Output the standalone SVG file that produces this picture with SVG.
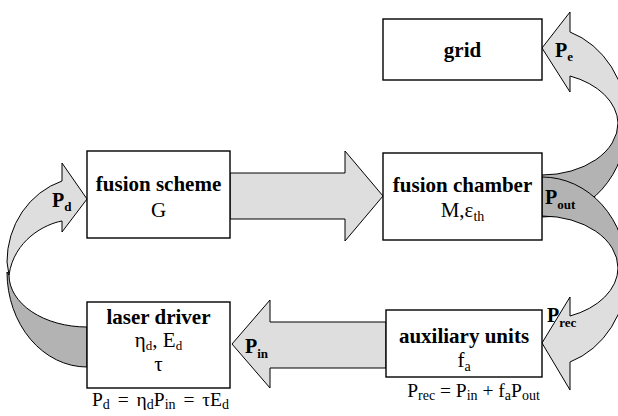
<svg xmlns="http://www.w3.org/2000/svg" width="618" height="416" viewBox="0 0 618 416">
<style>
.box{fill:#fff;stroke:#000;stroke-width:1.4}
.lt{fill:#dedede;stroke:#000;stroke-width:1}
.dk{fill:#b3b3b3;stroke:#000;stroke-width:1}
.t{font-family:"Liberation Serif","Times New Roman",serif;font-size:21px;fill:#000;text-anchor:middle}
.b{font-weight:bold}
.p{font-family:"Liberation Serif","Times New Roman",serif;font-size:20px;font-weight:bold;fill:#000}
.f{font-family:"Liberation Serif","Times New Roman",serif;font-size:19.5px;fill:#000;text-anchor:middle}
.s{font-size:14px}
</style>
<rect width="618" height="416" fill="#fff"/>
<g id="connectors">
  <!-- P_d curved arrow (laser driver -> fusion scheme) -->
  <path class="dk" d="M9,275 A78,52 0 0 0 87,327 L87,367 A80,95 0 0 1 7,272 Z"/>
  <path class="lt" d="M87,199 L62,163 L62,181 A80,85 0 0 0 7,262 L9,275 C14,240 45,224 62,221 L62,232 Z"/>
  <!-- P_e curved arrow (fusion chamber -> grid) -->
  <path class="dk" d="M542,175 A76,52 0 0 0 618,123 L627,122 A85,95 0 0 1 542,217 Z"/>
  <path class="lt" d="M542,48 L570,12 L570,32 A85,95 0 0 1 627,122 L618,123 A76,52 0 0 0 570,76 L570,92 Z"/>
  <!-- P_rec curved arrow (fusion chamber -> auxiliary units) -->
  <path class="dk" d="M542,177 A85,95 0 0 1 627,272 L618,268 A76,52 0 0 0 542,216 Z"/>
  <path class="lt" d="M542,343 L570,297 L570,316 A76,52 0 0 0 618,268 L627,272 A85,95 0 0 1 570,362 L570,390 Z"/>
  <!-- straight arrows -->
  <path class="lt" d="M230,173 L345,173 L345,151 L383,196 L345,241 L345,219 L230,219 Z"/>
  <path class="lt" d="M386,322 L270,322 L270,300 L232,344 L270,388 L270,368 L386,368 Z"/>
  <!-- labels -->
  <text class="p" x="52" y="207">P<tspan font-size="13" dy="4">d</tspan></text>
  <text class="p" x="555" y="57">P<tspan font-size="13" dy="4">e</tspan></text>
  <text class="p" x="545" y="204">P<tspan font-size="13" dy="5">out</tspan></text>
  <text class="p" x="547" y="322">P<tspan font-size="13" dy="5">rec</tspan></text>
  <text class="p" x="245" y="353">P<tspan font-size="13" dy="5">in</tspan></text>
</g>
<g id="grid">
  <rect class="box" x="383" y="19" width="159" height="61"/>
  <text class="t b" x="462.5" y="57">grid</text>
</g>
<g id="fusion-scheme">
  <rect class="box" x="87" y="151" width="143" height="87"/>
  <text class="t b" x="158.5" y="191">fusion scheme</text>
  <text class="t" x="158.5" y="217">G</text>
</g>
<g id="fusion-chamber">
  <rect class="box" x="383" y="153" width="159" height="87"/>
  <text class="t b" x="462.5" y="192">fusion chamber</text>
  <text class="t" x="462.5" y="217">M,ε<tspan font-size="14" dy="4">th</tspan></text>
</g>
<g id="laser-driver">
  <rect class="box" x="87" y="302" width="143" height="86"/>
  <text class="t b" x="158.5" y="324">laser driver</text>
  <text class="t" x="158.5" y="347" font-size="19.5">η<tspan font-size="13" dy="3">d</tspan><tspan dy="-3">, E</tspan><tspan font-size="13" dy="3">d</tspan></text>
  <text class="t" x="158.5" y="371" font-size="19.5">τ</text>
  <text class="f" x="160.5" y="406" word-spacing="3">P<tspan class="s" dy="3">d</tspan><tspan dy="-3"> = η</tspan><tspan class="s" dy="3">d</tspan><tspan dy="-3">P</tspan><tspan class="s" dy="3">in</tspan><tspan dy="-3"> = τE</tspan><tspan class="s" dy="3">d</tspan></text>
</g>
<g id="auxiliary-units">
  <rect class="box" x="386" y="310" width="156" height="67"/>
  <text class="t b" x="464" y="343">auxiliary units</text>
  <text class="t" x="464" y="367">f<tspan font-size="14" dy="4">a</tspan></text>
  <text class="f" x="473.5" y="397">P<tspan class="s" dy="3">rec</tspan><tspan dy="-3"> = P</tspan><tspan class="s" dy="3">in</tspan><tspan dy="-3"> + f</tspan><tspan class="s" dy="3">a</tspan><tspan dy="-3">P</tspan><tspan class="s" dy="3">out</tspan></text>
</g>
</svg>
